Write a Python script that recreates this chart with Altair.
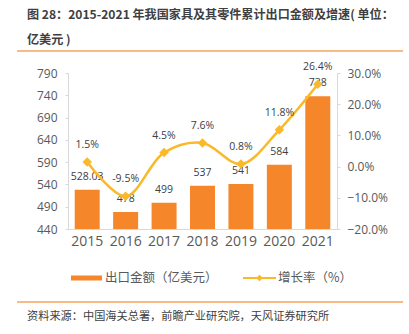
import altair as alt
import pandas as pd

years = ["2015", "2016", "2017", "2018", "2019", "2020", "2021"]
amounts = [528.03, 478, 499, 537, 541, 584, 738]
amount_labels = ["528.03", "478", "499", "537", "541", "584", "738"]
growth = [0.015, -0.095, 0.045, 0.076, 0.008, 0.118, 0.264]
growth_labels = ["1.5%", "-9.5%", "4.5%", "7.6%", "0.8%", "11.8%", "26.4%"]

left_ticks = [440, 490, 540, 590, 640, 690, 740, 790]
right_ticks = [-0.2, -0.1, 0.0, 0.1, 0.2, 0.3]

title_line1 = "图 28：2015-2021 年我国家具及其零件累计出口金额及增速( 单位："
title_line2 = "亿美元 )"
legend_bar = "出口金额（亿美元）"
legend_line = "增长率（%）"
source_text = "资料来源：中国海关总署，前瞻产业研究院，天风证券研究所"

BAR = "#F5862A"
LINE = "#FAB928"
ORANGE_RULE = "#F7A55E"
AXIS_GRAY = "#D9D9D9"
LABEL = "#595959"
DARK = "#404040"
NUM_FONT = "Open Sans"
CJK_FONT = "Noto Sans CJK SC"

df = pd.DataFrame({
    "year": years,
    "amount": amounts,
    "amount_label": amount_labels,
    "growth": growth,
    "growth_label": growth_labels,
})

x_enc = alt.X(
    "year:N",
    sort=years,
    scale=alt.Scale(paddingInner=0.35, paddingOuter=0.175),
    axis=alt.Axis(
        title=None, labelAngle=0, labelFontSize=14, labelColor=LABEL,
        labelFont=NUM_FONT, ticks=False, domainColor=AXIS_GRAY,
        labelPadding=5, grid=False,
    ),
)

y_left = alt.Y(
    "amount:Q",
    scale=alt.Scale(domain=[440, 790], nice=False, zero=False),
    axis=alt.Axis(
        title=None, values=left_ticks, labelFontSize=12, labelColor=LABEL,
        labelFont=NUM_FONT, tickSize=3, tickColor=AXIS_GRAY, domainColor=AXIS_GRAY,
        labelPadding=8, grid=False,
    ),
)

y_right = alt.Y(
    "growth:Q",
    scale=alt.Scale(domain=[-0.2, 0.3], nice=False, zero=False),
    axis=alt.Axis(
        title=None, orient="right", values=right_ticks, format=".1%",
        labelFontSize=12, labelColor=LABEL, labelFont=NUM_FONT, tickSize=3,
        tickColor=AXIS_GRAY, domainColor=AXIS_GRAY, labelPadding=7, grid=False,
    ),
)

base = alt.Chart(df)

bars = base.mark_bar(color=BAR, clip=True).encode(x=x_enc, y=y_left)
bar_text = base.mark_text(
    dy=-13, fontSize=10.5, color=DARK, font=NUM_FONT, baseline="middle"
).encode(x=x_enc, y=y_left, text="amount_label:N")
layer_a = alt.layer(bars, bar_text)

line = base.mark_line(color=LINE, strokeWidth=2.5, interpolate="catmull-rom").encode(
    x=x_enc, y=y_right
)
pts = base.mark_point(shape="diamond", filled=True, size=90, color=LINE, opacity=1).encode(
    x=x_enc, y=y_right
)
line_text = base.mark_text(
    dy=-17, fontSize=10.5, color=DARK, font=NUM_FONT, baseline="middle"
).encode(x=x_enc, y=y_right, text="growth_label:N")
layer_b = alt.layer(line, pts, line_text)

main = alt.layer(layer_a, layer_b).resolve_scale(y="independent")

# decorations (pixel positions relative to plot origin at 68,73)
one = pd.DataFrame({"t": [""]})


def txt(s, x, y, size, color, bold=False, font=CJK_FONT):
    return alt.Chart(pd.DataFrame({"t": [s]})).mark_text(
        align="left", baseline="middle", fontSize=size, color=color,
        font=font, fontWeight="bold" if bold else "normal",
    ).encode(x=alt.value(x), y=alt.value(y), text="t:N")


t1 = txt(title_line1, -41, -58, 12.1, "#3F3F3F", bold=True)
t2 = txt(title_line2, -41, -33, 12.1, "#3F3F3F", bold=True)
rule_top = alt.Chart(one).mark_rule(color=ORANGE_RULE, strokeWidth=1.5).encode(
    x=alt.value(-51), x2=alt.value(335), y=alt.value(-22)
)
rule_bot = alt.Chart(one).mark_rule(color=ORANGE_RULE, strokeWidth=1.5).encode(
    x=alt.value(-51), x2=alt.value(335), y=alt.value(229)
)
leg_rect = alt.Chart(one).mark_rect(color=BAR).encode(
    x=alt.value(3), x2=alt.value(34), y=alt.value(202.5), y2=alt.value(207.5)
)
leg_text1 = txt(legend_bar, 37, 205, 12.5, LABEL)
leg_line = alt.Chart(one).mark_rule(color=LINE, strokeWidth=2).encode(
    x=alt.value(175), x2=alt.value(208), y=alt.value(205)
)
leg_pt = alt.Chart(one).mark_point(shape="diamond", filled=True, size=45, color=LINE, opacity=1).encode(
    x=alt.value(191.5), y=alt.value(205)
)
leg_text2 = txt(legend_line, 210, 205, 12.5, LABEL)
src = txt(source_text, -41, 244, 11.2, DARK)

chart = alt.layer(
    main, t1, t2, rule_top, rule_bot, leg_rect, leg_text1, leg_line, leg_pt, leg_text2, src
).properties(
    width=269,
    height=156,
    autosize=alt.AutoSizeParams(type="none"),
    padding={"left": 68, "top": 73, "right": 72, "bottom": 105},
    background="white",
).configure_view(stroke=None)

chart.save("out.html", embed_options={"renderer": "svg", "actions": False})
